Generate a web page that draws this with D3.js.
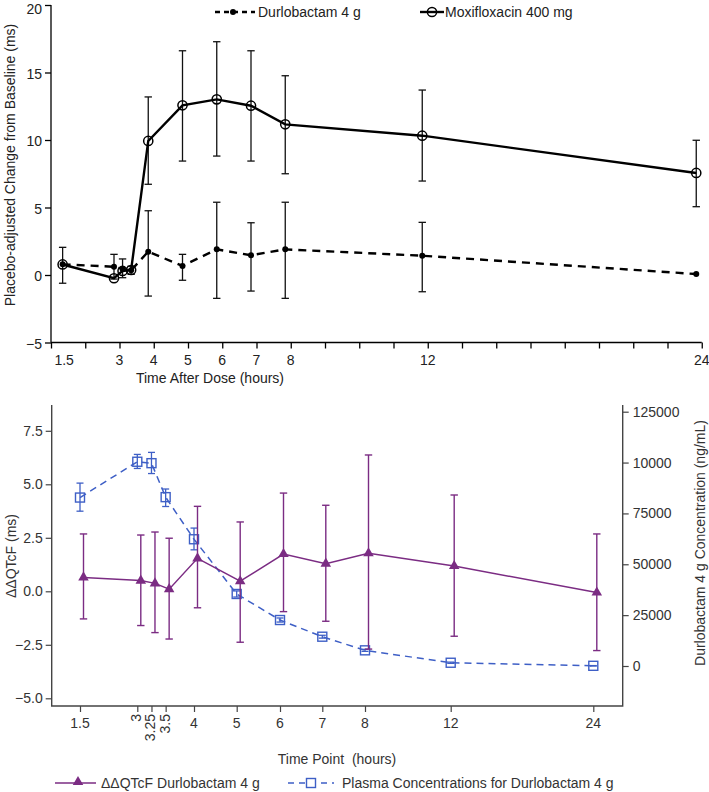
<!DOCTYPE html>
<html>
<head>
<meta charset="utf-8">
<script src="https://cdn.jsdelivr.net/npm/d3@7/dist/d3.min.js"></script>
<style>
  body { margin: 0; background: #fff; }
  svg { display: block; font-family: "Liberation Sans", Arial, sans-serif; }
</style>
</head>
<body>
<svg id="chart" width="709" height="792"></svg>
<script>
// ---------- Top panel data ----------
const topTimes = [1.5, 3, 3.25, 3.5, 4, 5, 6, 7, 8, 12, 24];
const durloMean = [0.79, 0.61, 0.45, 0.35, 1.73, 0.67, 1.9, 1.46, 1.9, 1.43, 0.07];
const durloLo   = [-0.61, -0.3, -0.2, 0.05, -1.56, -0.39, -1.73, -1.19, -1.73, -1.24, null];
const durloHi   = [2.05, 1.53, 1.19, 0.65, 4.76, 1.53, 5.39, 3.87, 5.39, 3.9, null];
const moxiMean  = [0.78, -0.24, 0.3, 0.37, 9.93, 12.57, 13.01, 12.54, 11.16, 10.32, 7.56];
const moxiLo    = [null, null, null, null, 6.72, 8.44, 8.81, 8.44, 7.5, 6.96, 5.06];
const moxiHi    = [null, null, null, null, 13.19, 16.61, 17.28, 16.61, 14.76, 13.7, 9.98];
const topYTicks = [-5, 0, 5, 10, 15, 20];
const topXLabels = [1.5, 3, 4, 5, 6, 7, 8, 12, 24];
const topXTicks = [1,2,3,4,5,6,7,8,9,10,11,12,13.5,15,16.5,18,19.5,21,22.5,24];

// ---------- Bottom panel data ----------
const qtTimes  = [1.5, 3, 3.25, 3.5, 4, 5, 6, 7, 8, 12, 24];
const qtMean   = [0.65, 0.5, 0.37, 0.1, 1.54, 0.47, 1.74, 1.29, 1.78, 1.18, -0.06];
const qtLo     = [-1.29, -1.6, -1.93, -2.23, -0.77, -2.38, -0.95, -1.4, -2.7, -2.1, -2.77];
const qtHi     = [2.68, 2.63, 2.77, 2.48, 3.97, 3.24, 4.59, 4.02, 6.37, 4.5, 2.68];
const concMean = [82800, 100400, 99700, 83000, 62300, 35400, 22600, 14400, 7700, 1600, 100];
const concLo   = [76100, 97100, 94600, 78400, 57100, 33900, 21600, 13700, 7200, 1300, 0];
const concHi   = [89900, 104000, 105000, 87000, 67800, 36900, 23600, 15100, 8200, 1900, 200];
const botLeftTicks = [-5, -2.5, 0, 2.5, 5, 7.5];
const botRightTicks = [0, 25000, 50000, 75000, 100000, 125000];
const botRightLabels = ["0", "25000", "50000", "75000", "10000", "125000"];
const botXTicks = [1.5, 3, 3.25, 3.5, 4, 5, 6, 7, 8, 12, 24];
const botXRotated = [3, 3.25, 3.5];

const svg = d3.select("#chart");
const FS = 14;

// ================= TOP PANEL =================
const tL = 51, tR = 701.75, tT = 5, tB = 342.5;
const unit = (tR - tL) / 19;
const xTop = d3.scaleLinear().domain([1, 12, 24]).range([tL, tL + 11 * unit, tR]);
const yTop = d3.scaleLinear().domain([-5, 20]).range([tB, tT]);
const dodgeTop = -5.5;

const gTop = svg.append("g");
// y axis
const yAxT = gTop.append("g").attr("transform", `translate(${tL},0)`)
  .call(d3.axisLeft(yTop).tickValues(topYTicks).tickSize(6).tickPadding(3)
    .tickFormat(d => d < 0 ? "\u2212" + Math.abs(d) : d));
// x axis
const xAxT = gTop.append("g").attr("transform", `translate(0,${tB})`)
  .call(d3.axisBottom(xTop).tickValues(topXTicks).tickSize(6).tickFormat(""));
[yAxT, xAxT].forEach(a => {
  a.select(".domain").attr("stroke", "#000").attr("stroke-width", 1.3).attr("d", null);
  a.selectAll(".tick line").attr("stroke", "#000").attr("stroke-width", 1.3);
  a.selectAll("text").attr("font-size", FS).attr("fill", "#222").attr("font-family", "Liberation Sans, Arial, sans-serif");
});
yAxT.selectAll(".tick text").attr("dy", d => d === 20 ? "8px" : "0.4em");
gTop.append("line").attr("x1", tL).attr("x2", tL).attr("y1", tT).attr("y2", tB).attr("stroke", "#000").attr("stroke-width", 1.3);
gTop.append("line").attr("x1", tL).attr("x2", tR).attr("y1", tB).attr("y2", tB).attr("stroke", "#000").attr("stroke-width", 1.3);
// x labels
gTop.selectAll("text.xl").data(topXLabels).join("text")
  .attr("x", d => xTop(d) + (d === 1.5 ? -4 : 0)).attr("y", tB + 22)
  .attr("text-anchor", "middle").attr("font-size", FS).attr("fill", "#222").text(d => d);
// titles
gTop.append("text").attr("x", 210).attr("y", 383).attr("text-anchor", "middle")
  .attr("font-size", FS).attr("fill", "#222").text("Time After Dose (hours)");
gTop.append("text").attr("transform", "translate(15,165) rotate(-90)").attr("text-anchor", "middle")
  .attr("font-size", FS).attr("fill", "#222").text("Placebo-adjusted Change from Baseline (ms)");

function errBars(g, times, lo, hi, xs, ys, color, cap, sw) {
  times.forEach((t, i) => {
    if (lo[i] == null || hi[i] == null) return;
    const x = xs(t);
    g.append("line").attr("x1", x).attr("x2", x).attr("y1", ys(lo[i])).attr("y2", ys(hi[i]))
      .attr("stroke", color).attr("stroke-width", sw);
    [lo[i], hi[i]].forEach(v => g.append("line").attr("x1", x - cap).attr("x2", x + cap)
      .attr("y1", ys(v)).attr("y2", ys(v)).attr("stroke", color).attr("stroke-width", sw));
  });
}
const xT = t => xTop(t) + dodgeTop;
errBars(gTop, topTimes, durloLo, durloHi, xT, yTop, "#111", 3.7, 1.3);
errBars(gTop, topTimes, moxiLo, moxiHi, xT, yTop, "#111", 3.7, 1.3);

const lineTop = d3.line().x(d => xT(d[0])).y(d => yTop(d[1]));
gTop.append("path").datum(topTimes.map((t, i) => [t, durloMean[i]])).attr("d", lineTop)
  .attr("fill", "none").attr("stroke", "#000").attr("stroke-width", 2.4).attr("stroke-dasharray", "8,6");
gTop.append("path").datum(topTimes.map((t, i) => [t, moxiMean[i]])).attr("d", lineTop)
  .attr("fill", "none").attr("stroke", "#000").attr("stroke-width", 2.4);
gTop.selectAll("circle.d").data(topTimes).join("circle")
  .attr("cx", d => xT(d)).attr("cy", (d, i) => yTop(durloMean[i])).attr("r", 3).attr("fill", "#000");
gTop.selectAll("circle.m").data(topTimes).join("circle")
  .attr("cx", d => xT(d)).attr("cy", (d, i) => yTop(moxiMean[i])).attr("r", 4.6)
  .attr("fill", "none").attr("stroke", "#000").attr("stroke-width", 1.5);

// top legend
const lg = gTop.append("g");
lg.append("line").attr("x1", 215).attr("x2", 255).attr("y1", 12).attr("y2", 12)
  .attr("stroke", "#000").attr("stroke-width", 2.4).attr("stroke-dasharray", "5,4");
lg.append("circle").attr("cx", 233).attr("cy", 12).attr("r", 3).attr("fill", "#000");
lg.append("text").attr("x", 258).attr("y", 17).attr("font-size", FS).attr("fill", "#222").text("Durlobactam 4 g");
lg.append("line").attr("x1", 420).attr("x2", 444).attr("y1", 12).attr("y2", 12)
  .attr("stroke", "#000").attr("stroke-width", 2.4);
lg.append("circle").attr("cx", 432).attr("cy", 12).attr("r", 4.6).attr("fill", "none").attr("stroke", "#000").attr("stroke-width", 1.5);
lg.append("text").attr("x", 445).attr("y", 17).attr("font-size", FS).attr("fill", "#222").text("Moxifloxacin 400 mg");

// ================= BOTTOM PANEL =================
const bL = 51.7, bR = 622.7, bT = 405, bB = 706;
const PURPLE = "#7B2C83", BLUE = "#3E5FC6", AX = "#444";
const xBot = d3.scaleLinear().domain([1.5, 3, 4, 5, 6, 7, 8, 12, 24])
  .range([80, 137.3, 194, 236.7, 280, 322.3, 365, 450.7, 593.3]);
const y0 = 591.3, pu = 21.4;
const yBotL = d3.scaleLinear().domain([(y0 - bB) / pu, (y0 - bT) / pu]).range([bB, bT]);
const c0 = 666, cpu = 50.86 / 25000;
const yBotR = d3.scaleLinear().domain([(c0 - bB) / cpu, (c0 - bT) / cpu]).range([bB, bT]);

const gB = svg.append("g");
const yAxL = gB.append("g").attr("transform", `translate(${bL},0)`)
  .call(d3.axisLeft(yBotL).tickValues(botLeftTicks).tickSize(6).tickPadding(3)
    .tickFormat(d => (d < 0 ? "\u2212" : "") + Math.abs(d).toFixed(1)));
const yAxR = gB.append("g").attr("transform", `translate(${bR},0)`)
  .call(d3.axisRight(yBotR).tickValues(botRightTicks).tickSize(6).tickPadding(4)
    .tickFormat((d, i) => botRightLabels[i]));
const xAxB = gB.append("g").attr("transform", `translate(0,${bB})`)
  .call(d3.axisBottom(xBot).tickValues(botXTicks).tickSize(6).tickFormat(""));
[yAxL, yAxR, xAxB].forEach(a => {
  a.select(".domain").attr("d", null);
  a.selectAll(".tick line").attr("stroke", AX).attr("stroke-width", 1.2);
  a.selectAll("text").attr("font-size", FS).attr("fill", "#333").attr("font-family", "Liberation Sans, Arial, sans-serif");
});
gB.append("path").attr("d", `M${bL},${bT}V${bB}H${bR}V${bT}`).attr("fill", "none")
  .attr("stroke", AX).attr("stroke-width", 1.4);
// x labels
gB.selectAll("text.bx").data(botXTicks).join("text")
  .attr("font-size", FS).attr("fill", "#333")
  .each(function(d) {
    const s = d3.select(this);
    if (botXRotated.includes(d)) {
      s.attr("transform", `translate(${xBot(d) + 4},${bB + 8}) rotate(-90)`)
        .attr("text-anchor", "end").text(d);
    } else {
      s.attr("x", xBot(d)).attr("y", bB + 22).attr("text-anchor", "middle").text(d);
    }
  });
gB.append("text").attr("x", 337).attr("y", 764).attr("text-anchor", "middle")
  .attr("font-size", FS).attr("fill", "#333").attr("xml:space", "preserve").text("Time Point  (hours)");
gB.append("text").attr("transform", "translate(16,556) rotate(-90)").attr("text-anchor", "middle")
  .attr("font-size", FS).attr("fill", "#333").text("\u0394\u0394QTcF (ms)");
gB.append("text").attr("transform", "translate(705,543) rotate(-90)").attr("text-anchor", "middle")
  .attr("font-size", FS).attr("fill", "#333").text("Durlobactam 4 g Concentration (ng/mL)");

const dodgeQ = 3.5;
const xQ = t => xBot(t) + dodgeQ;
const xC = t => xBot(t);
// concentration
errBars(gB, qtTimes, concLo, concHi, xC, yBotR, BLUE, 3.5, 1.3);
gB.append("path").datum(qtTimes.map((t, i) => [t, concMean[i]]))
  .attr("d", d3.line().x(d => xC(d[0])).y(d => yBotR(d[1])))
  .attr("fill", "none").attr("stroke", BLUE).attr("stroke-width", 1.5).attr("stroke-dasharray", "7,5");
gB.selectAll("rect.sq").data(qtTimes).join("rect")
  .attr("x", d => xC(d) - 4.5).attr("y", (d, i) => yBotR(concMean[i]) - 4.5)
  .attr("width", 9).attr("height", 9).attr("fill", "none").attr("stroke", BLUE).attr("stroke-width", 1.4);
// QTcF
errBars(gB, qtTimes, qtLo, qtHi, xQ, yBotL, PURPLE, 3.7, 1.4);
gB.append("path").datum(qtTimes.map((t, i) => [t, qtMean[i]]))
  .attr("d", d3.line().x(d => xQ(d[0])).y(d => yBotL(d[1])))
  .attr("fill", "none").attr("stroke", PURPLE).attr("stroke-width", 1.5);
const tri = d3.symbol().type(d3.symbolTriangle).size(48);
gB.selectAll("path.tri").data(qtTimes).join("path")
  .attr("d", tri).attr("transform", (d, i) => `translate(${xQ(d)},${yBotL(qtMean[i])})`)
  .attr("fill", PURPLE);

// bottom legend
const lb = gB.append("g");
lb.append("line").attr("x1", 55).attr("x2", 96).attr("y1", 783).attr("y2", 783).attr("stroke", PURPLE).attr("stroke-width", 1.5);
lb.append("path").attr("d", tri).attr("transform", "translate(78,782)").attr("fill", PURPLE);
lb.append("text").attr("x", 101).attr("y", 788).attr("font-size", FS).attr("fill", "#333").text("\u0394\u0394QTcF Durlobactam 4 g");
lb.append("line").attr("x1", 288).attr("x2", 334).attr("y1", 783).attr("y2", 783).attr("stroke", BLUE).attr("stroke-width", 1.5).attr("stroke-dasharray", "6,5");
lb.append("rect").attr("x", 306.5).attr("y", 778.5).attr("width", 9).attr("height", 9).attr("fill", "#fff").attr("stroke", BLUE).attr("stroke-width", 1.4);
lb.append("text").attr("x", 342).attr("y", 788).attr("font-size", FS).attr("fill", "#333").text("Plasma Concentrations for Durlobactam 4 g");
</script>
</body>
</html>
